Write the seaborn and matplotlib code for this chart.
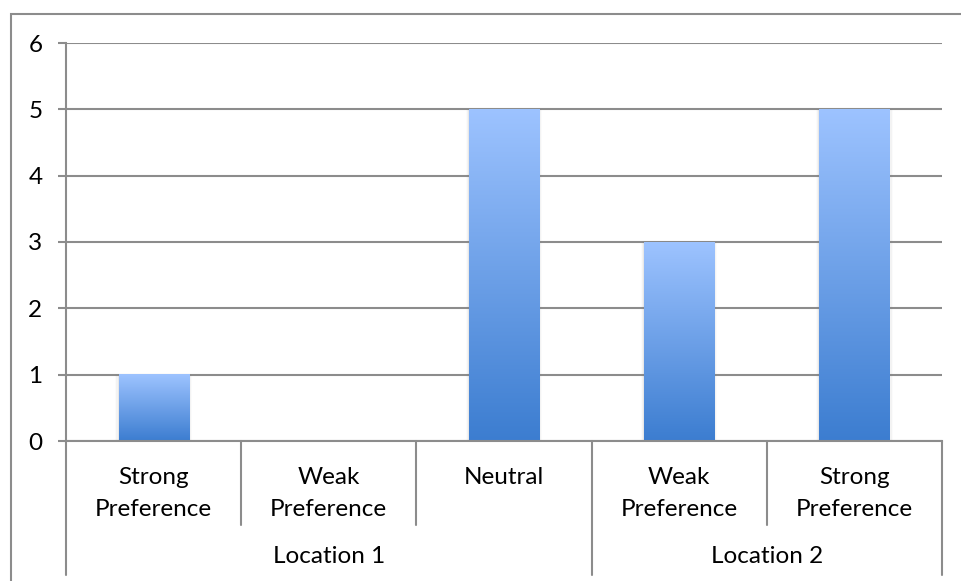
import matplotlib
matplotlib.use("Agg")
import matplotlib.pyplot as plt
import seaborn as sns
import numpy as np
import pandas as pd
from matplotlib.transforms import blended_transform_factory
from matplotlib.lines import Line2D
from matplotlib.patches import Rectangle

# ---- data ----
categories = ["Strong\nPreference", "Weak\nPreference", "Neutral", "Weak\nPreference", "Strong\nPreference"]
groups = ["Location 1", "Location 1", "Location 1", "Location 2", "Location 2"]
values = [1, 0, 5, 3, 5]
y_ticks = [0, 1, 2, 3, 4, 5, 6]

sns.set_theme(style="white")
plt.rcParams['font.family'] = ['Lato', 'DejaVu Sans']

W, H = 962, 581
fig = plt.figure(figsize=(W / 100, H / 100), dpi=100)
L, R, T, B = 66, 942, 43, 441
ax = fig.add_axes([L / W, 1 - B / H, (R - L) / W, (B - T) / H])

keys = [f"{g}|{c}" for g, c in zip(groups, categories)]
df = pd.DataFrame({"key": keys, "value": values})
sns.barplot(data=df, x="key", y="value", ax=ax, width=0.4, color="#5b8fdc", saturation=1)

ax.set_ylim(0, 6)
ax.set_xlim(-0.5, len(categories) - 0.5)
gray = "#8c8c8c"
FS = 17.5

# gradient bars
top_c = np.array([157, 195, 255]) / 255
bot_c = np.array([60, 125, 208]) / 255
grad = np.linspace(0, 1, 256)[:, None]
img = top_c[None, None, :] * (1 - grad[..., None]) + bot_c[None, None, :] * grad[..., None]
img = np.repeat(img, 2, axis=1)
for p in list(ax.patches):
    x0, y0, w, h = p.get_x(), p.get_y(), p.get_width(), p.get_height()
    p.set_visible(False)
    if h <= 0:
        continue
    # faint shadow
    for k, a in enumerate([0.10, 0.06, 0.03]):
        sh = Rectangle((x0 - 0.006 * (k + 1), y0), w + 0.012 * (k + 1), h + 0.01,
                       facecolor="#808080", edgecolor="none", alpha=a, zorder=2)
        ax.add_patch(sh)
    ax.imshow(img, extent=[x0, x0 + w, y0, y0 + h], aspect="auto", zorder=3, interpolation="bilinear")
ax.set_ylim(0, 6)
ax.set_xlim(-0.5, len(categories) - 0.5)

# grid & spines
ax.set_yticks(y_ticks)
ax.yaxis.grid(True, color=gray, linewidth=1.5)
ax.set_axisbelow(True)
for s in ["top", "right"]:
    ax.spines[s].set_visible(False)
for s in ["left", "bottom"]:
    ax.spines[s].set_color(gray)
    ax.spines[s].set_linewidth(1.5)
ax.spines["left"].set_zorder(5)
ax.spines["bottom"].set_zorder(5)
ax.tick_params(axis="y", left=True, length=6, width=1.5, color=gray, labelsize=FS, pad=11, labelcolor="black")
ax.set_xticks([])
ax.set_xlabel("")
ax.set_ylabel("")

# category axis labels
tr = blended_transform_factory(ax.transData, fig.transFigure)
def fy(px):
    return 1 - px / H

for i, c in enumerate(categories):
    for j, line in enumerate(c.split("\n")):
        ax.text(i, fy(484 + 32 * j), line, transform=tr, ha="center", va="baseline",
                fontsize=FS, color="black")

# group labels
starts = {}
for i, g in enumerate(groups):
    starts.setdefault(g, []).append(i)
for g, idx in starts.items():
    mid = (idx[0] + idx[-1]) / 2
    ax.text(mid, fy(563), g, transform=tr, ha="center", va="baseline", fontsize=FS, color="black")

# separator lines
n = len(categories)
for b in range(n + 1):
    xb = b - 0.5
    if b == 0 or b == n or groups[b - 1] != groups[b]:
        y_end = 575
    else:
        y_end = 525
    ax.add_line(Line2D([xb, xb], [fy(B), fy(y_end)], transform=tr, color=gray,
                       linewidth=1.5, clip_on=False))

# outer chart border
fig.patches.append(Rectangle((11 / W, -0.1), 1.1, 1 - 14 / H + 0.1, transform=fig.transFigure,
                             facecolor="none", edgecolor=gray, linewidth=1.5))

fig.savefig("out.png", dpi=100)
